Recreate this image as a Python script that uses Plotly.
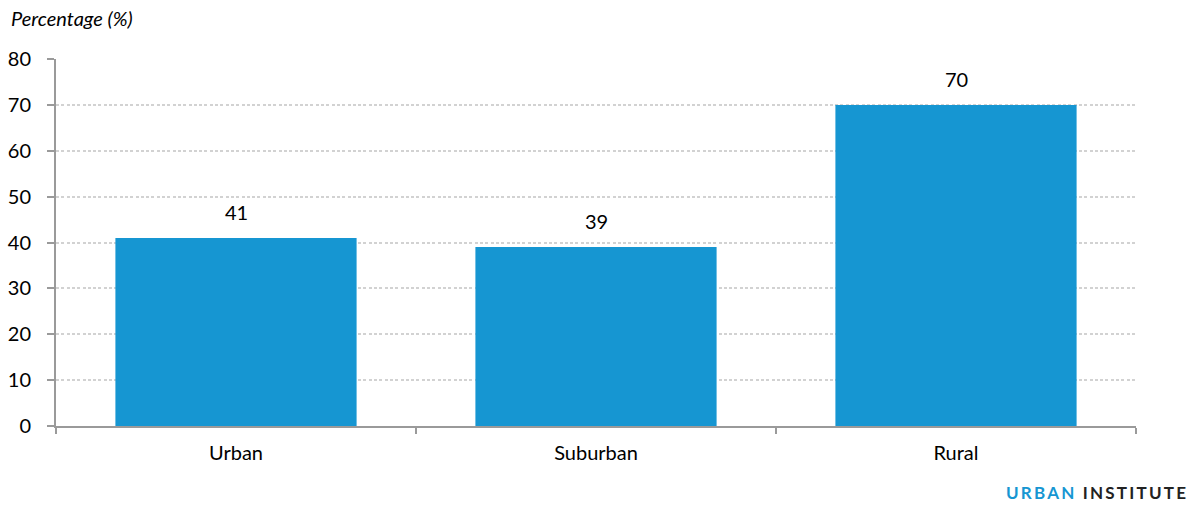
import plotly.graph_objects as go

categories = ["Urban", "Suburban", "Rural"]
percentages = [41, 39, 70]
y_ticks = [0, 10, 20, 30, 40, 50, 60, 70, 80]

BLUE = "#1696d2"
AXIS = "#9a9a9a"
FONT = "Lato"

fig = go.Figure(
    go.Bar(
        x=categories,
        y=percentages,
        marker=dict(color=BLUE, line=dict(width=0)),
        hoverinfo="x+y",
    )
)

# value labels sitting above each bar
value_labels = [
    dict(
        x=cat, y=val, xref="x", yref="y",
        text=str(val), showarrow=False,
        xanchor="center", yanchor="bottom", yshift=12,
        font=dict(family=FONT, size=20, color="#000000"),
    )
    for cat, val in zip(categories, percentages)
]

fig.update_layout(
    width=1195,
    height=506,
    margin=dict(l=56, r=59, t=59, b=80, autoexpand=False),
    paper_bgcolor="white",
    plot_bgcolor="white",
    bargap=0.33,
    showlegend=False,
    font=dict(family=FONT, size=20, color="#000000"),
    xaxis=dict(
        type="category",
        automargin=False,
        tickson="boundaries",
        ticks="outside",
        ticklen=6,
        tickwidth=2,
        tickcolor=AXIS,
        showline=True,
        linecolor=AXIS,
        linewidth=2,
        showgrid=False,
        ticklabelstandoff=8,
        tickfont=dict(family=FONT, size=20, color="#000000"),
    ),
    yaxis=dict(
        range=[0, 80],
        automargin=False,
        tickvals=y_ticks,
        ticks="outside",
        ticklen=7,
        tickwidth=2,
        tickcolor=AXIS,
        showline=True,
        linecolor=AXIS,
        linewidth=2,
        showgrid=True,
        gridcolor="#d2d2d2",
        gridwidth=2,
        griddash="3px,2.3px",
        zeroline=False,
        ticklabelstandoff=12,
        tickfont=dict(family=FONT, size=20, color="#000000"),
    ),
    annotations=value_labels + [
        dict(
            text="<i>Percentage (%)</i>",
            xref="paper", yref="paper",
            x=-47 / 1080, y=1 + 41 / 367,
            xanchor="left", yanchor="middle",
            showarrow=False,
            font=dict(family=FONT, size=20, color="#000000"),
        ),
        dict(
            text="<b><span style='letter-spacing:2.2px'><span style='color:#1696d2'>URBAN</span> INSTITUTE</span></b>",
            xref="paper", yref="paper",
            x=1 + 54 / 1080, y=-66 / 367,
            xanchor="right", yanchor="middle",
            showarrow=False,
            font=dict(family=FONT, size=17, color="#222222"),
        ),
    ],
)

fig.write_html("out.html")
